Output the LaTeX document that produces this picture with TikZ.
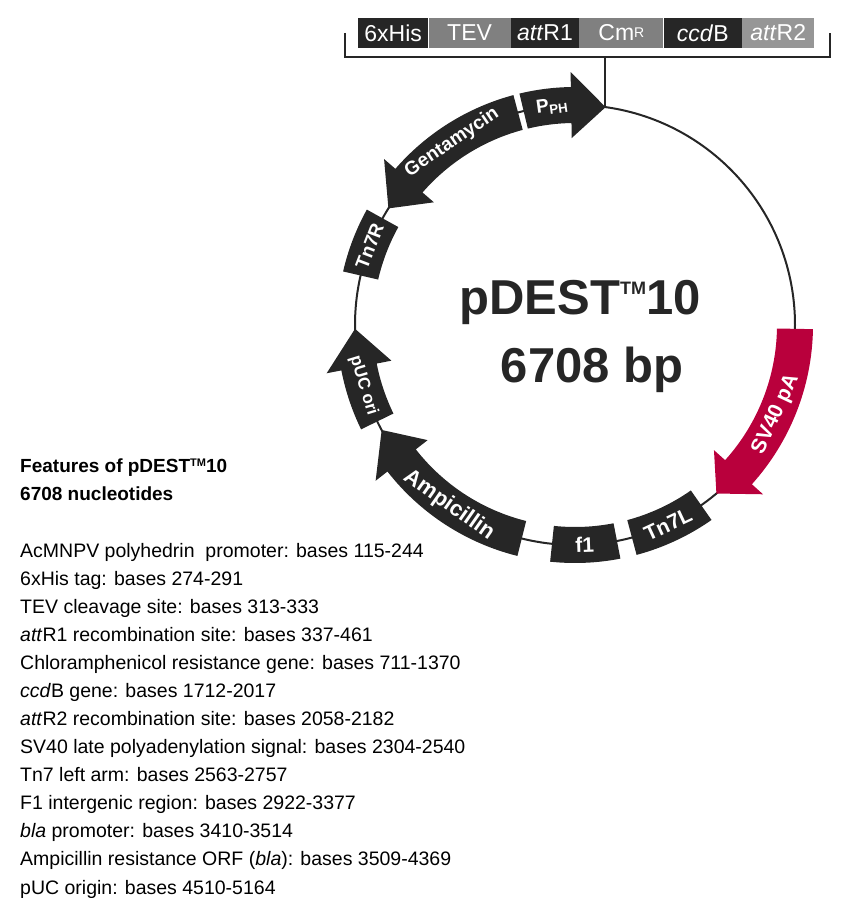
\documentclass[tikz,border=0pt]{standalone}
\usepackage{fontspec}
\setmainfont{Liberation Sans}
\definecolor{featdark}{RGB}{38,38,38}
\definecolor{featgray}{RGB}{128,128,128}
\definecolor{featlight}{RGB}{150,150,150}
\definecolor{svred}{RGB}{185,0,60}
% arrow along the circle: colour, start, head base, tip
\newcommand{\arcarrow}[4]{%
  \fill[#1] (#2:238) arc[start angle=#2, end angle=#3, radius=238] -- (#3:253)
    -- (#4:220) -- (#3:187) -- (#3:202) arc[start angle=#3, end angle=#2, radius=202] -- cycle;}
% box along the circle: start, end
\newcommand{\arcbox}[2]{%
  \fill[featdark] (#1:238) arc[start angle=#1, end angle=#2, radius=238] -- (#2:202)
    arc[start angle=#2, end angle=#1, radius=202] -- cycle;}
\tikzset{
  featlabel/.style={text=white, font=\bfseries\fontsize{19}{19}\selectfont, inner sep=0pt},
  barbox/.style={minimum height=30pt, inner sep=0pt, text=white, font=\fontsize{23}{23}\selectfont, anchor=west},
  listline/.style={anchor=base west, inner sep=0pt, font=\fontsize{19.5}{19.5}\selectfont}
}
\begin{document}
\begin{tikzpicture}[x=1pt, y=1pt]
    \useasboundingbox (0,0) rectangle (853,898);
    \coordinate (center) at (575,573);
    \coordinate (top) at (605,790);
    \draw[line width=2pt, featdark] (center) circle[radius=220];
    % features on the plasmid
    \begin{scope}[shift={(center)}]
    \arcarrow{featdark}{103.5}{91}{82}
    \arcarrow{featdark}{105}{139}{148}
    \arcbox{151}{167}
    \arcarrow{featdark}{206}{191}{181}
    \arcarrow{featdark}{256}{218}{208.5}
    \arcbox{264}{281}
    \arcbox{285}{305}
    \arcarrow{svred}{359}{318}{310}
    \node[featlabel, rotate=8] (pph) at (96:220) {P\textsubscript{PH}};
    \node[featlabel, rotate=34] (gent) at (124:220) {Gentamycin};
    \node[featlabel, rotate=69] (tn7r) at (159:220) {Tn7R};
    \node[featlabel, rotate=-73, font=\bfseries\fontsize{17}{17}\selectfont] (puc) at (196:220) {pUC ori};
    \node[featlabel, rotate=-35, font=\bfseries\fontsize{22}{22}\selectfont] (amp) at (235:220) {Ampicillin};
    \node[featlabel, rotate=2, font=\bfseries\fontsize{21}{21}\selectfont] (fone) at (272.5:220) {f1};
    \node[featlabel, rotate=25, font=\bfseries\fontsize{21}{21}\selectfont] (tnsevl) at (295:220) {Tn7L};
    \node[featlabel, rotate=65, font=\bfseries\fontsize{21}{21}\selectfont] (svpa) at (336:220) {SV40 pA};
    \end{scope}
    % cassette bar
    \node[barbox, fill=featdark, minimum width=70pt] (his) at (358,865) {6xHis};
    \node[barbox, fill=featgray, minimum width=82pt] (tev) at (his.east) {TEV};
    \node[barbox, fill=featdark, minimum width=68pt] (attone) at (tev.east) {\textit{att}R1};
    \node[barbox, fill=featgray, minimum width=84pt] (cm) at (attone.east) {Cm{\fontsize{14}{14}\selectfont\raisebox{3pt}{R}}};
    \node[barbox, fill=featdark, minimum width=78pt] (ccd) at (cm.east) {\textit{ccd}B};
    \node[barbox, fill=featlight, minimum width=72pt] (atttwo) at (ccd.east) {\textit{att}R2};
    \draw[line width=1.6pt, featdark] (345,865) -- (345,841) -- (830,841) -- (830,865);
    \draw[line width=1.6pt, featdark] (605,841) -- (top);
    % title
    \node[font=\bfseries\fontsize{49}{49}\selectfont, text=featdark] (name) at (580,596) {pDEST\raisebox{20pt}{\fontsize{18}{18}\selectfont TM}10};
    \node[font=\bfseries\fontsize{49}{49}\selectfont, text=featdark] (size) at (592,528) {6708 bp};
    % feature list
    \node[listline, font=\bfseries\fontsize{19}{19}\selectfont] (head1) at (20,425) {Features of pDEST\raisebox{6pt}{\fontsize{11}{11}\selectfont TM}10};
    \node[listline, font=\bfseries\fontsize{19}{19}\selectfont] (head2) at (20,397) {6708 nucleotides};
    \foreach \txt [count=\i] in {AcMNPV polyhedrin\ \ promoter: bases 115-244,
        6xHis tag: bases 274-291,
        TEV cleavage site: bases 313-333,
        \textit{att}R1 recombination site: bases 337-461,
        Chloramphenicol resistance gene: bases 711-1370,
        \textit{ccd}B gene: bases 1712-2017,
        \textit{att}R2 recombination site: bases 2058-2182,
        SV40 late polyadenylation signal: bases 2304-2540,
        Tn7 left arm: bases 2563-2757,
        F1 intergenic region: bases 2922-3377,
        \textit{bla} promoter: bases 3410-3514,
        Ampicillin resistance ORF (\textit{bla}): bases 3509-4369,
        pUC origin: bases 4510-5164}
      \node[listline] (item\i) at (20,{340-28*(\i-1)}) {\txt};
\end{tikzpicture}
\end{document}
